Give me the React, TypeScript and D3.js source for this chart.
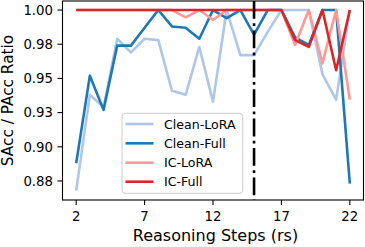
import React from "react";
import * as d3 from "d3";

const steps = d3.range(2, 23);
const cleanLoRA = [0.868, 0.938, 0.929, 0.979, 0.969, 0.979, 0.978, 0.941, 0.938, 0.973, 0.933, 1.0, 0.967, 0.967, 0.984, 1.0, 1.0, 1.0, 0.953, 0.9345, 1.0];
const cleanFull = [0.888, 0.952, 0.927, 0.974, 0.974, 0.987, 1.0, 0.988, 0.987, 0.979, 1.0, 0.994, 1.0, 0.982, 1.0, 1.0, 0.98, 0.9745, 1.0, 1.0, 0.873];
const icLoRA = [1.0, 1.0, 1.0, 1.0, 1.0, 1.0, 1.0, 1.0, 0.9947, 1.0, 0.9927, 1.0, 1.0, 1.0, 1.0, 1.0, 0.9745, 1.0, 0.961, 1.0, 0.9345];
const icFull = [1.0, 1.0, 1.0, 1.0, 1.0, 1.0, 1.0, 1.0, 1.0, 1.0, 1.0, 1.0, 1.0, 1.0, 1.0, 1.0, 0.978, 0.973, 1.0, 0.956, 1.0];

const seriesNames = ["Clean-LoRA", "Clean-Full", "IC-LoRA", "IC-Full"];
const seriesColors = ["#aec7e8", "#1f77b4", "#ff9896", "#d62728"];
const xTicks = [2, 7, 12, 17, 22];
const yTickValues = [1.0, 0.975, 0.95, 0.925, 0.9, 0.875];
const yTickLabels = ["1.00", "0.98", "0.95", "0.93", "0.90", "0.88"];
const splitStep = 15;

const W = 365;
const H = 247;
const L = 62.5;
const R = 363.5;
const T = 1;
const B = 200;
const FONT = "'DejaVu Sans', sans-serif";

export default function App() {
  const x = d3.scaleLinear().domain([1, 23]).range([L, R]);
  const y = d3.scaleLinear().domain([0.8611, 1.0066]).range([B, T]);
  const allSeries = [cleanLoRA, cleanFull, icLoRA, icFull];
  const line = d3
    .line<number>()
    .x((_, i) => x(steps[i]))
    .y((d) => y(d));

  const legendY = [124, 143.3, 162.7, 181.7];

  return (
    <svg
      width={W}
      height={H}
      style={{ position: "absolute", left: 0, top: 0, background: "#fff" }}
      fontFamily={FONT}
    >
      <rect x={0} y={0} width={W} height={H} fill="#fff" />
      {allSeries.map((s, k) => (
        <path
          key={k}
          d={line(s) || ""}
          fill="none"
          stroke={seriesColors[k]}
          strokeWidth={2.6}
          strokeLinejoin="round"
          strokeLinecap="butt"
        />
      ))}
      <line
        x1={x(splitStep)}
        x2={x(splitStep)}
        y1={T}
        y2={B}
        stroke="#000"
        strokeWidth={2.6}
        strokeDasharray="17.8,4.4,2.8,4.4"
      />
      {/* legend */}
      <rect
        x={122}
        y={113.3}
        width={120.7}
        height={80}
        rx={3}
        fill="#fff"
        fillOpacity={0.8}
        stroke="#cccccc"
        strokeWidth={1}
      />
      {seriesNames.map((n, k) => (
        <g key={n}>
          <line
            x1={125.5}
            x2={153.5}
            y1={legendY[k]}
            y2={legendY[k]}
            stroke={seriesColors[k]}
            strokeWidth={2.6}
          />
          <text x={164} y={legendY[k]} dy="0.36em" fontSize={12.6} fill="#000">
            {n}
          </text>
        </g>
      ))}
      {/* axes frame */}
      <rect x={L} y={T} width={R - L} height={B - T} fill="none" stroke="#000" strokeWidth={1.1} />
      {yTickValues.map((v, i) => (
        <g key={v}>
          <line x1={L - 5} x2={L} y1={y(v)} y2={y(v)} stroke="#000" strokeWidth={1.1} />
          <text x={53} y={y(v)} dy="0.36em" textAnchor="end" fontSize={13.3} fill="#000">
            {yTickLabels[i]}
          </text>
        </g>
      ))}
      {xTicks.map((v) => (
        <g key={v}>
          <line x1={x(v)} x2={x(v)} y1={B} y2={B + 5} stroke="#000" strokeWidth={1.1} />
          <text x={x(v)} y={221} textAnchor="middle" fontSize={13.3} fill="#000">
            {v}
          </text>
        </g>
      ))}
      <text x={215.5} y={241} textAnchor="middle" fontSize={16} fill="#000">
        Reasoning Steps (rs)
      </text>
      <text
        transform={`translate(12.5, ${(T + B) / 2}) rotate(-90)`}
        textAnchor="middle"
        fontSize={15.3}
        fill="#000"
      >
        SAcc / PAcc Ratio
      </text>
    </svg>
  );
}
